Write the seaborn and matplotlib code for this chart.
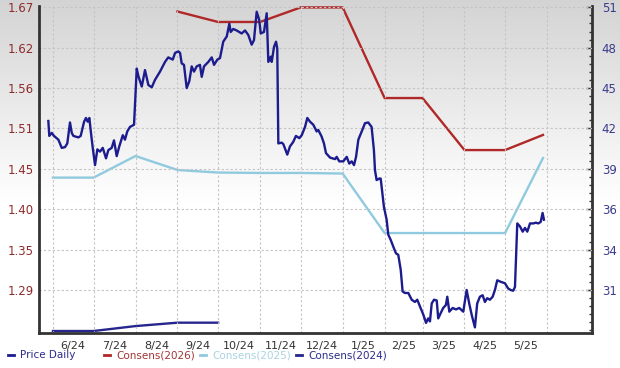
import numpy as np
import pandas as pd
import matplotlib
matplotlib.use("Agg")
import matplotlib.pyplot as plt
import matplotlib.dates as mdates
from matplotlib.lines import Line2D
from matplotlib.ticker import FixedLocator, FixedFormatter, NullFormatter
import seaborn as sns

START = pd.Timestamp("2024-06-01")

# ---- Price Daily (days after 2024-06-01, price) ----
price_day = [-3.4, -2.7, -0.9, 0.8, 4.0, 6.5, 8.9, 10.6, 12.6, 13.9, 15.1, 18.8, 20.5, 23.0, 24.4, 25.7,
             26.9, 28.1, 29.4, 31.1, 32.8, 34.8, 36.8, 39.2, 40.9, 43.4, 45.1, 47.1, 49.0, 51.6, 53.2,
             54.9, 56.9, 59.9, 61.9, 63.1, 65.6, 68.0, 70.5, 73.0, 75.4, 79.1, 82.8, 85.2, 88.5, 90.2,
             92.6, 93.9, 95.1, 96.8, 98.8, 100.7, 102.5, 104.2, 106.2, 108.6, 109.9, 111.6, 114.8,
             117.3, 119.0, 121.4, 123.4, 125.8, 128.4, 130.3, 131.3, 133.2, 135.7, 139.4, 141.9,
             144.3, 146.8, 148.5, 150.5, 152.4, 153.5, 155.9, 157.9, 159.1, 160.9, 161.6, 163.3,
             164.8, 165.7, 166.5, 169.0, 170.2, 173.1, 175.1, 177.5, 179.5, 182.0, 183.8, 186.2,
             187.9, 189.9, 192.3, 194.8, 196.0, 198.5, 200.2, 201.7, 204.7, 208.4, 209.6, 211.5,
             214.5, 217.0, 218.9, 220.7, 222.4, 223.9, 225.6, 228.1, 230.5, 232.9, 235.4, 237.1,
             237.9, 239.1, 241.1, 242.1, 243.6, 244.5, 246.5, 247.7, 249.5, 251.4, 253.4, 255.1,
             256.9, 258.3, 260.0, 262.5, 265.0, 267.4, 269.1, 271.1, 273.6, 275.6, 277.2, 278.5,
             279.8, 281.5, 283.5, 284.6, 286.4, 288.3, 290.3, 291.3, 292.8, 295.3, 297.7, 300.1,
             303.1, 305.6, 307.5, 309.3, 311.7, 313.4, 315.4, 317.4, 319.1, 320.8, 322.8, 324.8,
             326.5, 328.2, 330.7, 333.9, 336.3, 338.1, 340.0, 341.3, 343.0, 345.0, 347.0, 348.7,
             350.4, 352.4, 354.8, 356.8, 358.5, 360.3, 361.7, 362.7]
price = [1.516, 1.496, 1.500, 1.496, 1.491, 1.480, 1.481, 1.486, 1.514, 1.500, 1.496, 1.494, 1.496, 1.515,
         1.520, 1.515, 1.520, 1.500, 1.480, 1.457, 1.478, 1.475, 1.480, 1.466, 1.477, 1.480, 1.490,
         1.469, 1.482, 1.497, 1.491, 1.502, 1.508, 1.511, 1.586, 1.576, 1.562, 1.584, 1.564, 1.561,
         1.571, 1.582, 1.595, 1.601, 1.598, 1.607, 1.609, 1.607, 1.593, 1.591, 1.560, 1.569, 1.589,
         1.582, 1.589, 1.591, 1.575, 1.589, 1.595, 1.601, 1.591, 1.598, 1.600, 1.622, 1.629, 1.646,
         1.635, 1.639, 1.637, 1.633, 1.637, 1.631, 1.618, 1.624, 1.662, 1.651, 1.633, 1.635, 1.660,
         1.595, 1.602, 1.595, 1.615, 1.622, 1.613, 1.486, 1.487, 1.485, 1.471, 1.482, 1.488, 1.496,
         1.493, 1.497, 1.508, 1.520, 1.515, 1.511, 1.502, 1.504, 1.495, 1.486, 1.473, 1.467, 1.465,
         1.468, 1.462, 1.462, 1.468, 1.459, 1.462, 1.457, 1.468, 1.491, 1.502, 1.513, 1.514, 1.508,
         1.477, 1.450, 1.437, 1.439, 1.439, 1.415, 1.401, 1.384, 1.364, 1.357, 1.348, 1.339, 1.337,
         1.317, 1.288, 1.286, 1.286, 1.277, 1.274, 1.277, 1.268, 1.257, 1.246, 1.252, 1.248, 1.272,
         1.277, 1.276, 1.252, 1.259, 1.266, 1.270, 1.281, 1.261, 1.266, 1.264, 1.266, 1.261, 1.290,
         1.272, 1.257, 1.240, 1.272, 1.281, 1.283, 1.274, 1.279, 1.277, 1.281, 1.290, 1.303, 1.301,
         1.299, 1.292, 1.290, 1.289, 1.294, 1.379, 1.375, 1.368, 1.373, 1.368, 1.379, 1.379, 1.380,
         1.379, 1.381, 1.393, 1.384]

# ---- Consensus estimates (right axis) ----
cons2026_dates = ["2024-09-01", "2024-10-01", "2024-11-01", "2024-12-01", "2025-01-01",
                  "2025-02-01", "2025-03-01", "2025-04-01", "2025-05-01", "2025-05-29"]
cons2026 = [50.70, 49.96, 49.96, 50.99, 50.99, 44.58, 44.58, 40.90, 40.90, 41.97]

cons2025_dates = ["2024-06-01", "2024-07-01", "2024-08-01", "2024-09-01", "2024-10-01",
                  "2024-11-01", "2024-12-01", "2025-01-01", "2025-02-01", "2025-03-01",
                  "2025-04-01", "2025-05-01", "2025-05-29"]
cons2025 = [38.95, 38.95, 40.48, 39.49, 39.31, 39.28, 39.28, 39.24, 35.03, 35.03, 35.03, 35.03, 40.34]

cons2024_dates = ["2024-06-01", "2024-07-01", "2024-08-01", "2024-09-01", "2024-10-01"]
cons2024 = [28.10, 28.10, 28.45, 28.69, 28.69]

# ---- Axis ticks ----
left_tick_values = [1.290, 1.344, 1.398, 1.452, 1.506, 1.560, 1.614, 1.668]
left_tick_labels = ["1.29", "1.35", "1.40", "1.45", "1.51", "1.56", "1.62", "1.67"]
right_tick_values = [31.0, 33.857, 36.714, 39.571, 42.429, 45.286, 48.143, 51.0]
right_tick_labels = ["31", "34", "36", "39", "42", "45", "48", "51"]
month_labels = ["6/24", "7/24", "8/24", "9/24", "10/24", "11/24", "12/24",
                "1/25", "2/25", "3/25", "4/25", "5/25"]
legend_labels = ["Price Daily", "Consens(2026)", "Consens(2025)", "Consens(2024)"]

C_PRICE = "#1c1c8e"
C_2026 = "#b02828"
C_2025 = "#8fcadf"
C_2024 = "#26268e"

W, H = 620, 368
fig = plt.figure(figsize=(W / 100, H / 100), dpi=100)
fig.patch.set_facecolor("white")

# background gradient
bg = fig.add_axes([0, 0, 1, 1], zorder=-10)
n = 368
t = np.linspace(0, 1, n)  # 0 top -> 1 bottom
shade = np.clip(0.83 + (1 - 0.83) * (t / 0.55), 0, 1)
grad = np.repeat(shade[:, None, None], 3, axis=2)
bg.imshow(grad, aspect="auto", extent=[0, 1, 0, 1], interpolation="bilinear")
bg.set_axis_off()

ax = fig.add_axes([39 / W, 1 - 333 / H, (592 - 39) / W, (333 - 6) / H])
ax2 = ax.twinx()
ax.set_zorder(3)
ax2.set_zorder(2)
ax.patch.set_visible(False)
ax2.patch.set_visible(False)

price_df = pd.DataFrame({"date": START + pd.to_timedelta(price_day, unit="D"), "price": price})
c26 = pd.DataFrame({"date": pd.to_datetime(cons2026_dates), "v": cons2026})
c25 = pd.DataFrame({"date": pd.to_datetime(cons2025_dates), "v": cons2025})
c24 = pd.DataFrame({"date": pd.to_datetime(cons2024_dates), "v": cons2024})

sns.lineplot(data=c26, x="date", y="v", ax=ax2, color=C_2026, linewidth=1.7, legend=False)
sns.lineplot(data=c25, x="date", y="v", ax=ax2, color=C_2025, linewidth=1.7, legend=False)
sns.lineplot(data=c24, x="date", y="v", ax=ax2, color=C_2024, linewidth=1.7, legend=False)
sns.lineplot(data=price_df, x="date", y="price", ax=ax, color=C_PRICE, linewidth=1.7, legend=False)

xmin = START - pd.Timedelta(days=10.3)
xmax = START + pd.Timedelta(days=398.2)
ax.set_xlim(xmin, xmax)
ax2.set_xlim(xmin, xmax)
ax.set_ylim(1.2325, 1.6697)
ax2.set_ylim(27.96, 51.09)

month_starts = pd.date_range("2024-06-01", "2025-06-01", freq="MS")
mids = [month_starts[i] + (month_starts[i + 1] - month_starts[i]) / 2 for i in range(12)]
ax.xaxis.set_major_locator(FixedLocator(mdates.date2num(mids)))
ax.xaxis.set_major_formatter(FixedFormatter(month_labels))
ax.xaxis.set_minor_locator(FixedLocator(mdates.date2num(month_starts)))
ax.xaxis.set_minor_formatter(NullFormatter())
ax.tick_params(axis="x", which="both", length=0, pad=6, labelsize=8, labelcolor="#333333")

ax.yaxis.set_major_locator(FixedLocator(left_tick_values))
ax.yaxis.set_major_formatter(FixedFormatter(left_tick_labels))
ax.tick_params(axis="y", which="major", length=0, pad=4, labelsize=8.5, labelcolor="#8e2b2b")

ax2.yaxis.set_major_locator(FixedLocator(right_tick_values))
ax2.yaxis.set_major_formatter(FixedFormatter(right_tick_labels))
minor_r = []
step = (right_tick_values[1] - right_tick_values[0]) / 5
v = 51.0
while v > 27.96:
    minor_r.append(v)
    v -= step
ax2.yaxis.set_minor_locator(FixedLocator(minor_r))
ax2.tick_params(axis="y", which="major", direction="in", length=4, width=1, color="#333333",
                pad=7, labelsize=8.5, labelcolor="#3a3a8a")
ax2.tick_params(axis="y", which="minor", direction="in", length=2.5, width=1, color="#333333")
ax2.tick_params(axis="x", which="both", length=0, labelbottom=False)

ax.grid(which="minor", axis="x", color="#c4c4c4", linestyle=(0, (2, 2)), linewidth=0.8)
ax.grid(which="major", axis="y", color="#c4c4c4", linestyle=(0, (2, 2)), linewidth=0.8)
ax.grid(which="major", axis="x", visible=False)
ax.set_axisbelow(True)

ax.set_xlabel("")
ax.set_ylabel("")
ax2.set_xlabel("")
ax2.set_ylabel("")

for s in ["top", "right"]:
    ax.spines[s].set_visible(False)
for s in ["top", "left", "bottom"]:
    ax2.spines[s].set_visible(False)
for s, a in [("left", ax), ("bottom", ax), ("right", ax2)]:
    a.spines[s].set_color("#333333")
    a.spines[s].set_linewidth(2)

# legend row
leg_colors_line = [C_PRICE, C_2026, C_2025, C_2024]
leg_colors_text = ["#2b2b8c", "#a23434", "#a9d3e3", "#2b2b8c"]
y_leg = 1 - 355 / H
for i, (lab, lc, tc) in enumerate(zip(legend_labels, leg_colors_line, leg_colors_text)):
    x0 = 8 + 96 * i
    fig.lines.append(Line2D([x0 / W, (x0 + 6) / W], [y_leg, y_leg], transform=fig.transFigure,
                            color=lc, linewidth=2))
    fig.text((x0 + 12) / W, y_leg, lab, color=tc, fontsize=7.5, va="center", ha="left")

fig.savefig("out.png", dpi=100)
